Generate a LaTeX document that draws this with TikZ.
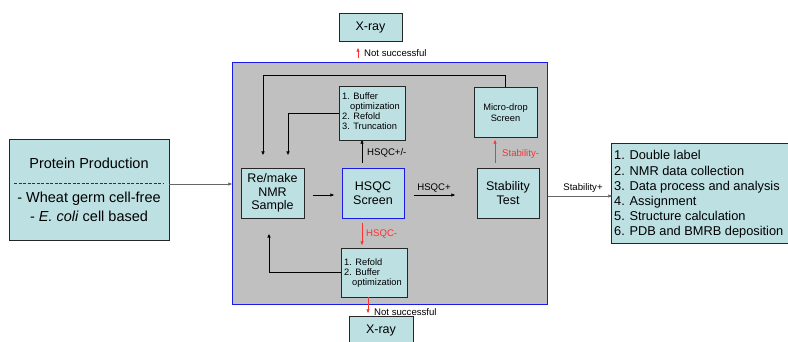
\documentclass[tikz,border=0pt]{standalone}
\usepackage{fontspec}
\setmainfont{Liberation Sans}
\usetikzlibrary{arrows.meta}
\definecolor{boxfill}{HTML}{BDE0E3}
\definecolor{grayfill}{HTML}{C0C0C0}
\definecolor{bluedge}{HTML}{1A1AE6}
\definecolor{redline}{HTML}{FF3030}
\tikzset{
  box/.style={draw=black!85, fill=boxfill, line width=0.8pt, inner sep=0pt},
  big/.style={font=\fontsize{12.5}{15}\selectfont, align=center},
  pbig/.style={font=\fontsize{14.5}{17}\selectfont, align=center},
  small/.style={font=\fontsize{9.3}{12}\selectfont},
  lbl/.style={font=\fontsize{9.6}{11}\selectfont, inner sep=1pt},
  tip/.style={-{Triangle[length=3.6pt,width=3pt]}},
  arr/.style={draw=black, line width=0.5pt, tip},
  rarr/.style={draw=redline, fill=redline, line width=0.5pt, tip},
  fbarr/.style={draw=black, line width=0.9pt, -{Triangle[length=3.6pt,width=3.2pt]}},
}
\begin{document}
\begin{tikzpicture}[x=1pt,y=-1pt]
\useasboundingbox (0,0) rectangle (788,341);
% gray panel
\draw[fill=grayfill, draw=bluedge, line width=0.9pt] (232,62) rectangle (547,304);
% Protein production
\draw[box] (9,139) rectangle (169,240);
\node[pbig] (pp) at (89,163) {Protein Production};
\draw[black!80, dash pattern=on 3pt off 1.5pt, line width=0.7pt] (14,183) -- (164,183);
\node[pbig] at (89,199) {- Wheat germ cell-free};
\node[pbig] at (89,216.5) {- \textit{E. coli} cell based};
\coordinate (ppR) at (169,184);
\coordinate (grayL) at (232,184);
\draw[draw=black!60, line width=0.5pt, tip] (ppR) -- (grayL);

% top X-ray
\draw[box] (339,13) rectangle (402,41);
\node[big] (xt) at (370.5,27) {X-ray};
\coordinate (xtB) at (358,58);
\coordinate (xtT) at (358,48);
\draw[rarr] (xtB) -- (xtT);
\node[lbl, anchor=west] at (363,53) {Not successful};

% Buffer optimization box
\draw[box] (339,86) rectangle (405,140);
\node[small, anchor=west, align=left, inner sep=0pt] (bo) at (342,111) {1. Buffer\\[-2pt]\hspace*{8pt}optimization\\[-2pt]2. Refold\\[-2pt]3. Truncation};

% Micro-drop box
\draw[box] (474,87) rectangle (537,137);
\node[small, align=center] (md) at (505.5,112.5) {Micro-drop\\[-1pt]Screen};

% Re/make box
\draw[box] (241,168) rectangle (304,218);
\node[big] (rm) at (272.5,193) {Re/make\\[-1.5pt]NMR\\[-1.5pt]Sample};

% HSQC box
\draw[box, draw=bluedge] (342,168) rectangle (404,218);
\node[big] (hs) at (373,193.5) {HSQC\\[-1pt]Screen};

% Stability test
\draw[box] (477,168) rectangle (539,218);
\node[big] (st) at (508,193.5) {Stability\\[-1pt]Test};

% Lower box
\draw[box] (341,248) rectangle (407,297);
\node[small, anchor=west, align=left, inner sep=0pt] (lb) at (344,273) {1. Refold\\[-2pt]2. Buffer\\[-2pt]\hspace*{8pt}optimization};

% bottom X-ray
\draw[box] (349,316) rectangle (413,346);
\node[big] (xb) at (381,330) {X-ray};

% right box
\draw[box] (611,143) rectangle (792,243);
\node[font=\fontsize{12.8}{15.2}\selectfont, anchor=north west, align=left, inner sep=0pt] (rb) at (614,150.5) {1. Double label\\2. NMR data collection\\3. Data process and analysis\\4. Assignment\\5. Structure calculation\\6. PDB and BMRB deposition};

% arrows inside
\coordinate (rmR) at (313,195);
\coordinate (hsL) at (334,195);
\draw[arr] (rmR) -- (hsL);

\coordinate (hpA) at (414,195);
\coordinate (hpB) at (455,195);
\draw[arr] (hpA) -- (hpB);
\node[lbl] at (434,188) {HSQC+};

\coordinate (hsT) at (362,163);
\coordinate (boB) at (362,140);
\draw[arr] (hsT) -- (boB);
\node[lbl, anchor=west] at (366,153) {HSQC+/-};

\coordinate (hsB) at (362,223);
\coordinate (lbT) at (362,245);
\draw[rarr] (hsB) -- (lbT);
\node[lbl, anchor=west, text=redline] at (365,234) {HSQC-};

\coordinate (stT) at (495,163);
\coordinate (mdB) at (495,140);
\draw[rarr] (stT) -- (mdB);
\node[lbl, anchor=west, text=redline] at (501,154) {Stability-};

\coordinate (grayR) at (548,196);
\coordinate (rbL) at (612,196);
\draw[draw=black!60, line width=0.5pt, tip] (grayR) -- (rbL);
\node[lbl] at (583,188) {Stability+};

\coordinate (lbB) at (368,297);
\coordinate (xbT) at (368,313);
\draw[rarr] (lbB) -- (xbT);
\node[lbl, anchor=west] at (373,312) {Not successful};

% feedback lines
\coordinate (mdT) at (505,87);
\coordinate (rmA) at (263,155);
\draw[fbarr] (mdT) |- (263,75) -- (rmA);
\coordinate (boL) at (339,113);
\coordinate (rmB) at (288,155);
\draw[fbarr] (boL) -| (rmB);
\coordinate (lbL) at (341,272);
\coordinate (rmC) at (269,234);
\draw[fbarr] (lbL) -| (rmC);
\end{tikzpicture}
\end{document}
